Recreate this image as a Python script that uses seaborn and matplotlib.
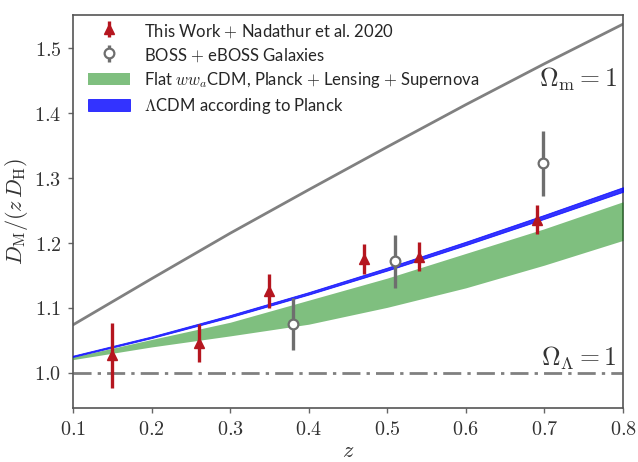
import numpy as np
import pandas as pd
import matplotlib
matplotlib.use("Agg")
import matplotlib.pyplot as plt
from matplotlib.patches import Rectangle, Patch
from matplotlib.legend_handler import HandlerPatch
from matplotlib.ticker import FuncFormatter, MultipleLocator
import seaborn as sns

# ---- model curves, sampled on a regular redshift grid ----
z_grid = [0.1, 0.2, 0.3, 0.4, 0.5, 0.6, 0.7, 0.8]
eds_ratio = [1.074, 1.145, 1.215, 1.282, 1.348, 1.413, 1.476, 1.537]
lcdm_low = [1.0246, 1.0536, 1.0857, 1.1206, 1.1576, 1.1967, 1.2372, 1.2788]
lcdm_high = [1.0266, 1.0562, 1.0891, 1.1244, 1.1622, 1.2021, 1.2434, 1.2860]
wwa_low = [1.0205, 1.040, 1.057, 1.075, 1.101, 1.131, 1.166, 1.204]
wwa_high = [1.0245, 1.0515, 1.078, 1.112, 1.146, 1.184, 1.222, 1.2635]

# ---- measurements ----
this_z = [0.15, 0.26, 0.35, 0.47, 0.54, 0.69]
this_val = [1.027, 1.046, 1.126, 1.175, 1.179, 1.236]
this_err = [0.050, 0.029, 0.026, 0.023, 0.022, 0.022]

boss_z = [0.38, 0.51, 0.698]
boss_val = [1.076, 1.172, 1.323]
boss_err = [0.040, 0.041, 0.050]

curves = pd.DataFrame({"z": z_grid, "eds": eds_ratio,
                       "lcdm_lo": lcdm_low, "lcdm_hi": lcdm_high,
                       "wwa_lo": wwa_low, "wwa_hi": wwa_high})

sns.set_theme(style="ticks")
plt.rcParams["font.family"] = ["Lato", "DejaVu Sans"]
plt.rcParams["mathtext.fontset"] = "cm"

fig = plt.figure(figsize=(6.38, 4.62), dpi=100)
ax = fig.add_axes([0.1144, 0.1169, 0.8621, 0.8506])

red = "#b5161f"
gray_pt = "#6e6e6e"
gray_ln = "#808080"

# Einstein-de Sitter and empty-universe reference lines
sns.lineplot(data=curves, x="z", y="eds", ax=ax, color=gray_ln, lw=2, zorder=2)
ax.axhline(1.0, color=gray_ln, lw=2, ls=(0, (6.5, 2.2, 1.2, 2.2)), zorder=2)

ax.fill_between(curves["z"], curves["wwa_lo"], curves["wwa_hi"],
                color="green", alpha=0.5, lw=0, zorder=3)
ax.fill_between(curves["z"], curves["lcdm_lo"], curves["lcdm_hi"],
                facecolor="blue", edgecolor="blue", alpha=0.8, lw=0.6, zorder=4)

h_this = ax.errorbar(this_z, this_val, yerr=this_err, fmt="^", color=red,
                     ms=7, elinewidth=2.4, capsize=0, zorder=6)
h_boss = ax.errorbar(boss_z, boss_val, yerr=boss_err, fmt="o", color=gray_pt,
                     mfc="white", mec=gray_pt, mew=1.6, ms=7, elinewidth=2.4,
                     capsize=0, zorder=5)

ax.text(0.792, 1.4415, r"$\Omega_{\rm m} = 1$", ha="right", va="baseline",
        fontsize=18.5, color="#333333")
ax.text(0.792, 1.011, r"$\Omega_\Lambda = 1$", ha="right", va="baseline",
        fontsize=18.5, color="#333333")

ax.set_xlim(0.1, 0.8)
ax.set_ylim(0.946, 1.551)
ax.xaxis.set_major_locator(MultipleLocator(0.1))
ax.yaxis.set_major_locator(MultipleLocator(0.1))
fmt = FuncFormatter(lambda v, p: rf"${v:.1f}$")
ax.xaxis.set_major_formatter(fmt)
ax.yaxis.set_major_formatter(fmt)
ax.tick_params(direction="out", length=3.5, width=1, color="#666666",
               labelsize=14.5, labelcolor="#333333", pad=5)
for s in ax.spines.values():
    s.set_color("#555555")
    s.set_linewidth(1.2)

ax.set_xlabel(r"$z$", fontsize=16, color="#333333", labelpad=2)
ax.set_ylabel(r"$D_{\rm M}/(z\,D_{\rm H})$", fontsize=16, color="#333333",
              labelpad=3)


def slim_patch(legend, orig_handle, xdescent, ydescent, width, height, fontsize):
    # keep the band swatches at a fixed height inside taller legend rows
    h = 0.72 * fontsize
    return Rectangle((-xdescent, -ydescent + (height - h) / 2), width, h)


key_wwa = Patch(facecolor="green", alpha=0.5, lw=0)
key_lcdm = Patch(facecolor="blue", edgecolor="blue", alpha=0.8, lw=0.6)

ax.legend([h_this, h_boss, key_wwa, key_lcdm],
          [r"This Work $+$ Nadathur et al. 2020",
           r"BOSS $+$ eBOSS Galaxies",
           r"Flat $ww_a$CDM, Planck $+$ Lensing $+$ Supernova",
           r"$\Lambda$CDM according to Planck"],
          loc="upper left", bbox_to_anchor=(0.016, 1.0), frameon=False,
          fontsize=12.0, handlelength=2.5, handleheight=1.3,
          handletextpad=0.85, labelspacing=0.36, borderaxespad=0.0,
          handler_map={Patch: HandlerPatch(patch_func=slim_patch)})

fig.savefig("out.png", dpi=100)
